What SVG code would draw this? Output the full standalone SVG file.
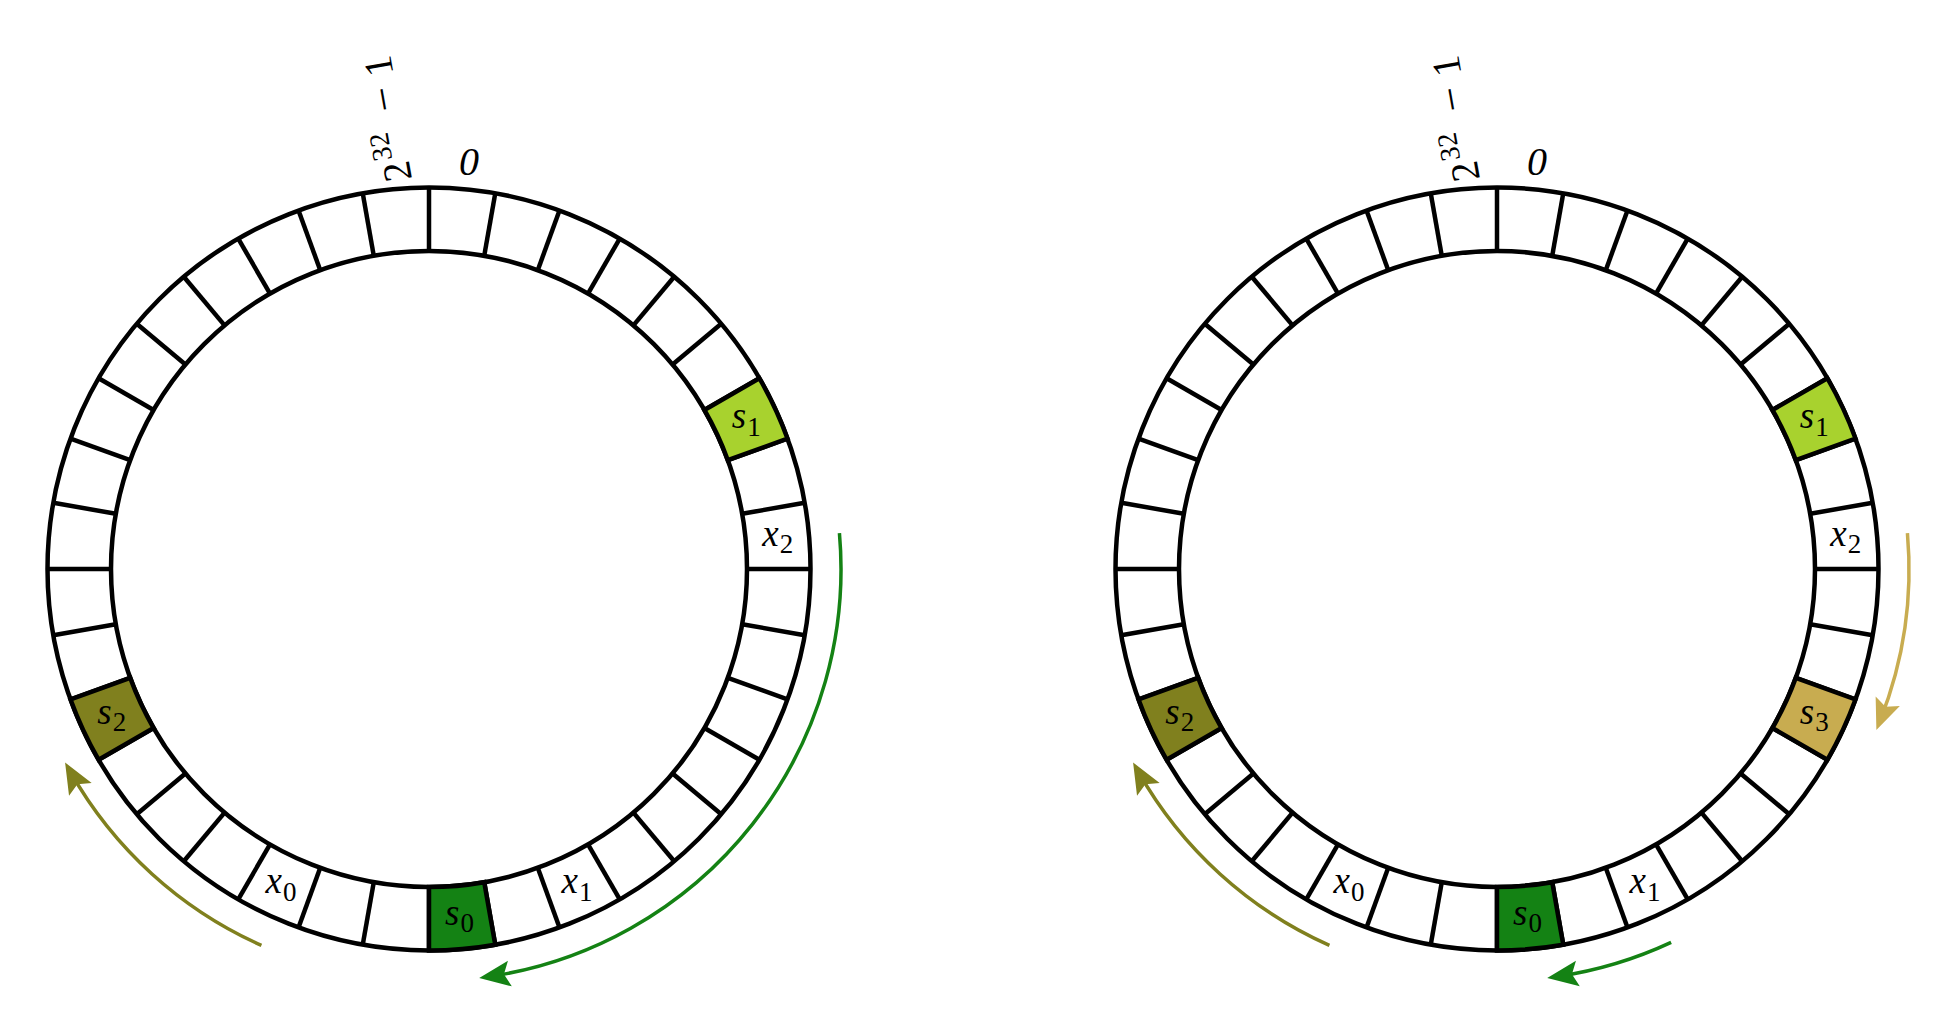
<svg xmlns="http://www.w3.org/2000/svg" width="1948" height="1016" viewBox="0 0 1948 1016">
<style>
.ring{fill:none;stroke:#000;stroke-width:4.5}
.cellf{stroke:#000;stroke-width:4.5}
.txt{font-family:"Liberation Serif","Times New Roman",serif}
.lbl{font-size:37px;fill:#000;text-anchor:middle}
.it{font-style:italic}
.sub{font-size:27px;font-style:normal}
.top{font-size:40px;fill:#000}
.arc{fill:none;stroke-width:3.5}
</style>
<defs>
<path id="cell" d="M0,-318 L0,-381.5 A381.5,381.5 0 0 1 66.25,-375.70 L55.22,-313.17 A318,318 0 0 0 0,-318 Z"/>
<g id="ringshape" class="ring">
<circle cx="0" cy="0" r="381.5"/>
<circle cx="0" cy="0" r="318"/>
<line x1="0" y1="-318" x2="0" y2="-381.5"/>
<line x1="0" y1="-318" x2="0" y2="-381.5" transform="rotate(10)"/>
<line x1="0" y1="-318" x2="0" y2="-381.5" transform="rotate(20)"/>
<line x1="0" y1="-318" x2="0" y2="-381.5" transform="rotate(30)"/>
<line x1="0" y1="-318" x2="0" y2="-381.5" transform="rotate(40)"/>
<line x1="0" y1="-318" x2="0" y2="-381.5" transform="rotate(50)"/>
<line x1="0" y1="-318" x2="0" y2="-381.5" transform="rotate(60)"/>
<line x1="0" y1="-318" x2="0" y2="-381.5" transform="rotate(70)"/>
<line x1="0" y1="-318" x2="0" y2="-381.5" transform="rotate(80)"/>
<line x1="0" y1="-318" x2="0" y2="-381.5" transform="rotate(90)"/>
<line x1="0" y1="-318" x2="0" y2="-381.5" transform="rotate(100)"/>
<line x1="0" y1="-318" x2="0" y2="-381.5" transform="rotate(110)"/>
<line x1="0" y1="-318" x2="0" y2="-381.5" transform="rotate(120)"/>
<line x1="0" y1="-318" x2="0" y2="-381.5" transform="rotate(130)"/>
<line x1="0" y1="-318" x2="0" y2="-381.5" transform="rotate(140)"/>
<line x1="0" y1="-318" x2="0" y2="-381.5" transform="rotate(150)"/>
<line x1="0" y1="-318" x2="0" y2="-381.5" transform="rotate(160)"/>
<line x1="0" y1="-318" x2="0" y2="-381.5" transform="rotate(170)"/>
<line x1="0" y1="-318" x2="0" y2="-381.5" transform="rotate(180)"/>
<line x1="0" y1="-318" x2="0" y2="-381.5" transform="rotate(190)"/>
<line x1="0" y1="-318" x2="0" y2="-381.5" transform="rotate(200)"/>
<line x1="0" y1="-318" x2="0" y2="-381.5" transform="rotate(210)"/>
<line x1="0" y1="-318" x2="0" y2="-381.5" transform="rotate(220)"/>
<line x1="0" y1="-318" x2="0" y2="-381.5" transform="rotate(230)"/>
<line x1="0" y1="-318" x2="0" y2="-381.5" transform="rotate(240)"/>
<line x1="0" y1="-318" x2="0" y2="-381.5" transform="rotate(250)"/>
<line x1="0" y1="-318" x2="0" y2="-381.5" transform="rotate(260)"/>
<line x1="0" y1="-318" x2="0" y2="-381.5" transform="rotate(270)"/>
<line x1="0" y1="-318" x2="0" y2="-381.5" transform="rotate(280)"/>
<line x1="0" y1="-318" x2="0" y2="-381.5" transform="rotate(290)"/>
<line x1="0" y1="-318" x2="0" y2="-381.5" transform="rotate(300)"/>
<line x1="0" y1="-318" x2="0" y2="-381.5" transform="rotate(310)"/>
<line x1="0" y1="-318" x2="0" y2="-381.5" transform="rotate(320)"/>
<line x1="0" y1="-318" x2="0" y2="-381.5" transform="rotate(330)"/>
<line x1="0" y1="-318" x2="0" y2="-381.5" transform="rotate(340)"/>
<line x1="0" y1="-318" x2="0" y2="-381.5" transform="rotate(350)"/>
</g>
<marker id="ah-green" viewBox="-33 -15 36 30" refX="-10.8" refY="0" markerWidth="36" markerHeight="30" markerUnits="userSpaceOnUse" orient="auto">
<path d="M0,0 L-31,-13 L-25,0 L-31,13 Z" fill="#148214"/>
</marker>
<marker id="ah-olive" viewBox="-33 -15 36 30" refX="-10.8" refY="0" markerWidth="36" markerHeight="30" markerUnits="userSpaceOnUse" orient="auto">
<path d="M0,0 L-31,-13 L-25,0 L-31,13 Z" fill="#80801E"/>
</marker>
<marker id="ah-gold" viewBox="-33 -15 36 30" refX="-10.8" refY="0" markerWidth="36" markerHeight="30" markerUnits="userSpaceOnUse" orient="auto">
<path d="M0,0 L-31,-13 L-25,0 L-31,13 Z" fill="#C8AC50"/>
</marker>
</defs>

<rect x="0" y="0" width="1948" height="1016" fill="#fff"/>

<g class="txt">
<g id="left-ring">
<use href="#ringshape" transform="translate(429,569)"/>
<text class="top it" x="469" y="175" text-anchor="middle">0</text>
<text class="top" transform="translate(412,179) rotate(-100)"><tspan x="0" y="0">2</tspan><tspan x="23" y="-16" font-size="28">32</tspan><tspan x="71" y="0" font-size="44">−</tspan><tspan x="107" y="0">1</tspan></text>
</g>
<g id="left-s1">
<use href="#cell" class="cellf" fill="#A8D22E" transform="translate(429,569) rotate(60)"/>
<text class="lbl" x="746.21" y="428.08"><tspan class="it">s</tspan><tspan class="sub" dx="1" dy="7.5">1</tspan></text>
</g>
<g id="left-x2">
<text class="lbl" x="777.67" y="545.5"><tspan class="it">x</tspan><tspan class="sub" dx="1" dy="7.5">2</tspan></text>
</g>
<g id="left-x1">
<text class="lbl" x="576.92" y="893.21"><tspan class="it">x</tspan><tspan class="sub" dx="1" dy="7.5">1</tspan></text>
</g>
<g id="left-s0">
<use href="#cell" class="cellf" fill="#148214" transform="translate(429,569) rotate(170)"/>
<text class="lbl" x="459.5" y="924.67"><tspan class="it">s</tspan><tspan class="sub" dx="1" dy="7.5">0</tspan></text>
</g>
<g id="left-x0">
<text class="lbl" x="281.08" y="893.21"><tspan class="it">x</tspan><tspan class="sub" dx="1" dy="7.5">0</tspan></text>
</g>
<g id="left-s2">
<use href="#cell" class="cellf" fill="#80801E" transform="translate(429,569) rotate(240)"/>
<text class="lbl" x="111.79" y="723.92"><tspan class="it">s</tspan><tspan class="sub" dx="1" dy="7.5">2</tspan></text>
</g>

<g id="right-ring">
<use href="#ringshape" transform="translate(1497,569)"/>
<text class="top it" x="1537" y="175" text-anchor="middle">0</text>
<text class="top" transform="translate(1480,179) rotate(-100)"><tspan x="0" y="0">2</tspan><tspan x="23" y="-16" font-size="28">32</tspan><tspan x="71" y="0" font-size="44">−</tspan><tspan x="107" y="0">1</tspan></text>
</g>
<g id="right-s1">
<use href="#cell" class="cellf" fill="#A8D22E" transform="translate(1497,569) rotate(60)"/>
<text class="lbl" x="1814.21" y="428.08"><tspan class="it">s</tspan><tspan class="sub" dx="1" dy="7.5">1</tspan></text>
</g>
<g id="right-x2">
<text class="lbl" x="1845.67" y="545.5"><tspan class="it">x</tspan><tspan class="sub" dx="1" dy="7.5">2</tspan></text>
</g>
<g id="right-s3">
<use href="#cell" class="cellf" fill="#C8AC50" transform="translate(1497,569) rotate(110)"/>
<text class="lbl" x="1814.21" y="723.92"><tspan class="it">s</tspan><tspan class="sub" dx="1" dy="7.5">3</tspan></text>
</g>
<g id="right-x1">
<text class="lbl" x="1644.92" y="893.21"><tspan class="it">x</tspan><tspan class="sub" dx="1" dy="7.5">1</tspan></text>
</g>
<g id="right-s0">
<use href="#cell" class="cellf" fill="#148214" transform="translate(1497,569) rotate(170)"/>
<text class="lbl" x="1527.5" y="924.67"><tspan class="it">s</tspan><tspan class="sub" dx="1" dy="7.5">0</tspan></text>
</g>
<g id="right-x0">
<text class="lbl" x="1349.08" y="893.21"><tspan class="it">x</tspan><tspan class="sub" dx="1" dy="7.5">0</tspan></text>
</g>
<g id="right-s2">
<use href="#cell" class="cellf" fill="#80801E" transform="translate(1497,569) rotate(240)"/>
<text class="lbl" x="1179.79" y="723.92"><tspan class="it">s</tspan><tspan class="sub" dx="1" dy="7.5">2</tspan></text>
</g>
</g>

<g id="connectors">
<path class="arc" stroke="#148214" marker-end="url(#ah-green)" d="M839.43,533.09 A412,412 0 0 1 489.90,976.47"/>
<path class="arc" stroke="#80801E" marker-end="url(#ah-olive)" d="M261.42,945.38 A412,412 0 0 1 70.41,771.88"/>
<path class="arc" stroke="#C8AC50" marker-end="url(#ah-gold)" d="M1907.43,533.09 A412,412 0 0 1 1880.33,720.00"/>
<path class="arc" stroke="#148214" marker-end="url(#ah-green)" d="M1671.12,942.40 A412,412 0 0 1 1557.90,976.47"/>
<path class="arc" stroke="#80801E" marker-end="url(#ah-olive)" d="M1329.42,945.38 A412,412 0 0 1 1138.41,771.88"/>
</g>
</svg>
